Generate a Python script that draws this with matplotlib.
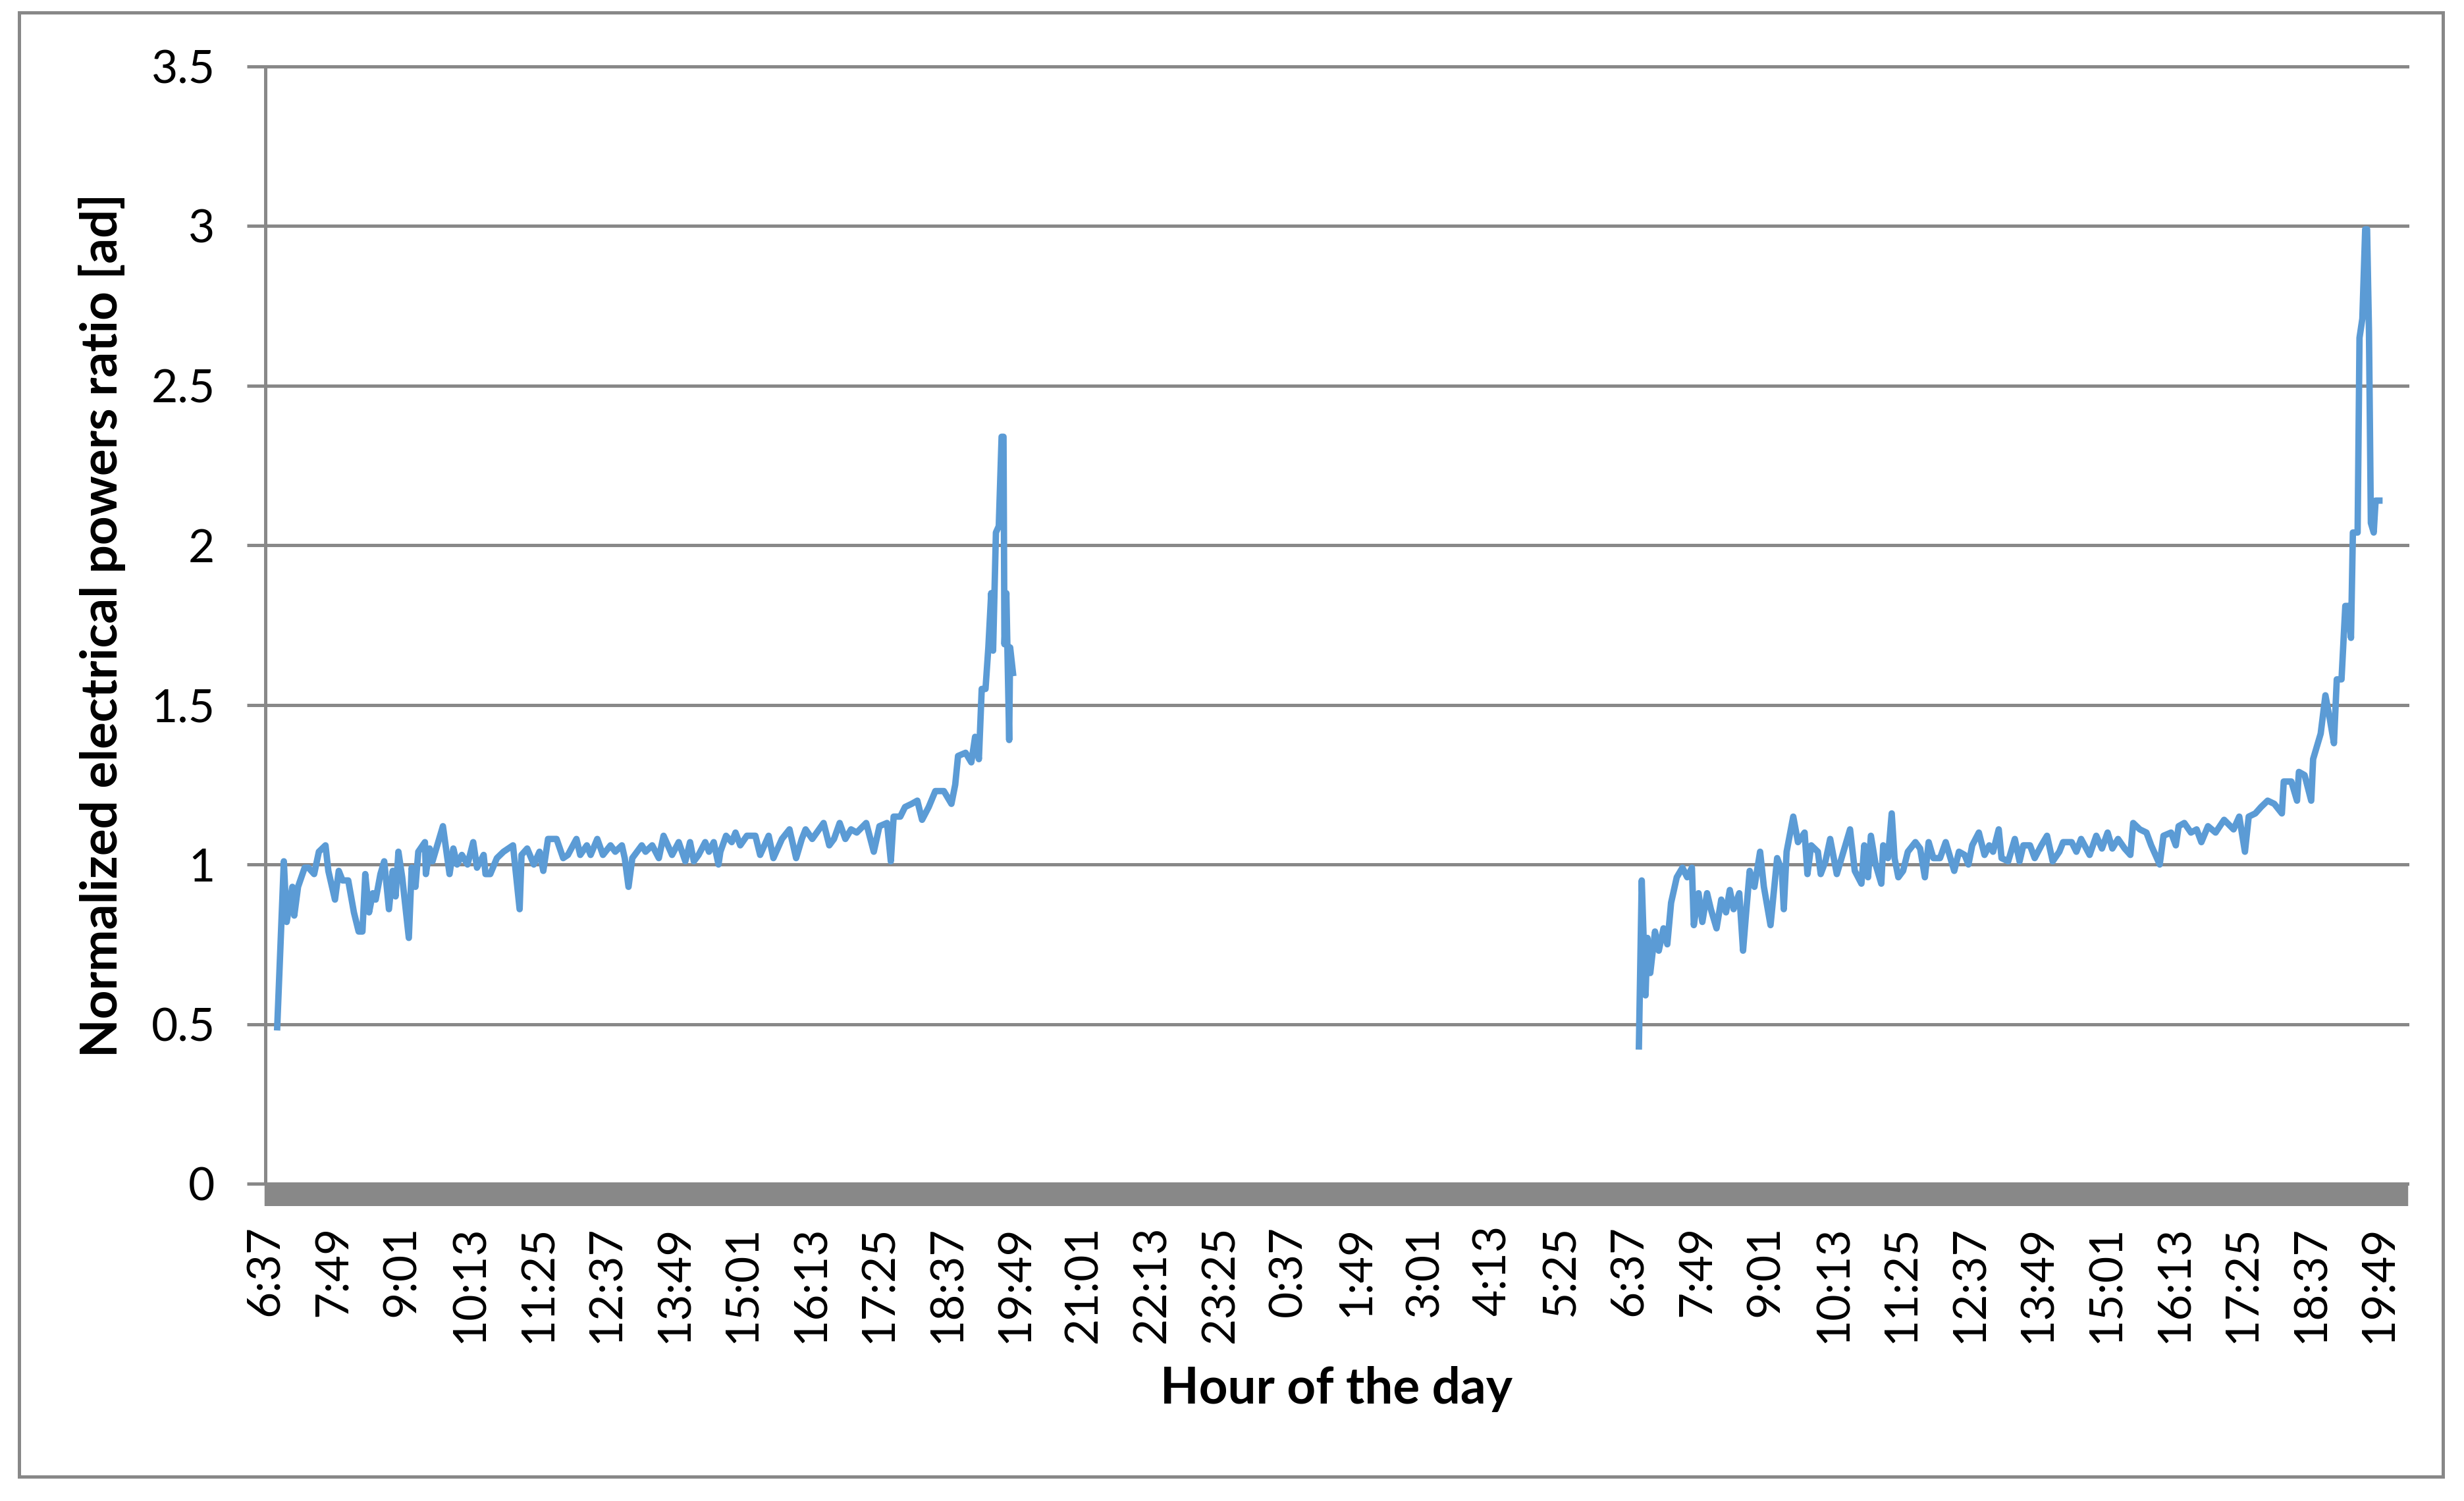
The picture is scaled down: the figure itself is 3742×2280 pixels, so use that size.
import matplotlib
matplotlib.use("Agg")
import matplotlib.pyplot as plt
from matplotlib.patches import Rectangle

# minutes counted from 6:37 of the first day, one category per minute
day1_min = [12, 19, 22, 28, 30, 34, 41, 45, 51, 56, 63, 66, 73, 77, 81, 87, 93, 98, 102, 105,
            109, 113, 116, 121, 125, 130, 134, 137, 140, 144, 151, 154, 158, 161, 168, 169, 173, 176, 181, 187,
            194, 198, 202, 207, 213, 219, 223, 230, 232, 237, 244, 251, 261, 268, 270, 276, 283, 289,
            293, 298, 307, 314, 319, 328, 332, 339, 343, 350, 356, 364, 369, 376, 379, 383, 387, 397, 401, 408,
            415, 420, 429, 436, 443, 448, 452, 457, 464, 468, 473, 478, 480, 486, 492, 496, 501, 508, 517, 522,
            531, 536, 545, 553, 560, 566, 570, 577,
            589, 595, 600, 606, 612, 618, 624, 634, 642, 648, 656, 660, 663, 670, 675, 682, 688, 693, 700, 707,
            716, 724, 728, 731, 739, 745, 749, 753, 756, 760, 763, 766, 768, 771, 774, 777, 779, 780, 782, 785,
            786, 789]
day1_val = [0.49, 1.01, 0.82, 0.93, 0.84, 0.93, 0.99, 0.99, 0.97, 1.04, 1.06, 0.98, 0.89, 0.98, 0.95, 0.95, 0.85, 0.79, 0.79, 0.97,
            0.85, 0.91, 0.89, 0.97, 1.01, 0.86, 0.98, 0.90, 1.04, 0.96, 0.77, 0.99, 0.93, 1.04, 1.07, 0.97, 1.05, 1.01, 1.06, 1.12,
            0.97, 1.05, 1.00, 1.03, 1.00, 1.07, 0.99, 1.03, 0.97, 0.97, 1.02, 1.04, 1.06, 0.86, 1.03, 1.05, 1.00, 1.04,
            0.98, 1.08, 1.08, 1.02, 1.03, 1.08, 1.03, 1.06, 1.03, 1.08, 1.03, 1.06, 1.04, 1.06, 1.02, 0.93, 1.02, 1.06, 1.04, 1.06,
            1.02, 1.09, 1.03, 1.07, 1.01, 1.07, 1.01, 1.03, 1.07, 1.04, 1.07, 1.00, 1.04, 1.09, 1.07, 1.10, 1.06, 1.09, 1.09, 1.03,
            1.09, 1.02, 1.08, 1.11, 1.02, 1.08, 1.11, 1.08,
            1.13, 1.06, 1.08, 1.13, 1.08, 1.11, 1.10, 1.13, 1.04, 1.12, 1.13, 1.01, 1.15, 1.15, 1.18, 1.19, 1.20, 1.14, 1.18, 1.23,
            1.23, 1.19, 1.25, 1.34, 1.35, 1.32, 1.40, 1.33, 1.55, 1.55, 1.68, 1.85, 1.67, 2.04, 2.06, 2.34, 2.34, 1.69, 1.85, 1.39,
            1.68, 1.60]

day2_min = [1450, 1453, 1457, 1459, 1462, 1467, 1471, 1476, 1480, 1484, 1490, 1496, 1501, 1506, 1508, 1513, 1517, 1522, 1526, 1532,
            1537, 1542, 1546, 1550, 1556, 1560, 1563, 1567, 1572, 1578, 1582, 1589, 1596, 1601, 1603, 1606, 1613, 1618, 1625, 1628,
            1632, 1639, 1642, 1647, 1652, 1659, 1664, 1673, 1678, 1685, 1688, 1692, 1695, 1700, 1706, 1708, 1713, 1717, 1720, 1724,
            1729, 1734,
            1742, 1747, 1752, 1756, 1761, 1768, 1774, 1779, 1783, 1788, 1794, 1798, 1802, 1809, 1815, 1820, 1824, 1830, 1833, 1840,
            1847, 1852, 1856, 1863, 1868, 1875, 1881, 1887, 1894, 1898, 1907, 1912, 1917, 1926, 1933, 1939, 1945, 1950, 1956, 1963,
            1969, 1972, 1979, 1986, 1991, 2000, 2004, 2012, 2017, 2020, 2026,
            2033, 2039, 2044, 2051, 2059, 2068, 2078, 2084, 2090, 2094, 2101, 2107, 2114, 2121, 2129, 2131, 2139, 2145, 2147, 2153,
            2160, 2162, 2167, 2170, 2175, 2180, 2184, 2187, 2192, 2196, 2199, 2202, 2204, 2209, 2211, 2214, 2217, 2219, 2221, 2223,
            2226, 2228, 2232]
day2_val = [0.43, 0.95, 0.59, 0.77, 0.66, 0.79, 0.73, 0.80, 0.75, 0.88, 0.96, 0.99, 0.96, 0.99, 0.81, 0.91, 0.82, 0.91, 0.86, 0.80,
            0.89, 0.85, 0.92, 0.86, 0.91, 0.73, 0.84, 0.98, 0.93, 1.04, 0.93, 0.81, 1.02, 0.98, 0.86, 1.04, 1.15, 1.07, 1.10, 0.97,
            1.06, 1.04, 0.97, 1.01, 1.08, 0.97, 1.02, 1.11, 0.98, 0.94, 1.06, 0.96, 1.09, 1.00, 0.94, 1.06, 1.02, 1.16, 1.02, 0.96,
            0.98, 1.04,
            1.07, 1.05, 0.96, 1.07, 1.02, 1.02, 1.07, 1.02, 0.98, 1.04, 1.03, 1.00, 1.06, 1.10, 1.03, 1.06, 1.04, 1.11, 1.02, 1.01,
            1.08, 1.01, 1.06, 1.06, 1.02, 1.06, 1.09, 1.01, 1.04, 1.07, 1.07, 1.04, 1.08, 1.03, 1.09, 1.05, 1.10, 1.05, 1.08, 1.05,
            1.03, 1.13, 1.11, 1.10, 1.06, 1.00, 1.09, 1.10, 1.06, 1.12, 1.13,
            1.10, 1.11, 1.07, 1.12, 1.10, 1.14, 1.11, 1.15, 1.04, 1.15, 1.16, 1.18, 1.20, 1.19, 1.16, 1.26, 1.26, 1.20, 1.29, 1.28,
            1.20, 1.33, 1.38, 1.41, 1.53, 1.45, 1.38, 1.58, 1.58, 1.81, 1.81, 1.71, 2.04, 2.04, 2.65, 2.71, 2.99, 2.99, 2.67, 2.07,
            2.04, 2.14, 2.14]

hour_labels = ["6:37", "7:49", "9:01", "10:13", "11:25", "12:37", "13:49", "15:01", "16:13", "17:25",
               "18:37", "19:49", "21:01", "22:13", "23:25", "0:37", "1:49", "3:01", "4:13", "5:25",
               "6:37", "7:49", "9:01", "10:13", "11:25", "12:37", "13:49", "15:01", "16:13", "17:25",
               "18:37", "19:49"]
label_step = 72
n_minutes = 2262
y_ticks = [0, 0.5, 1, 1.5, 2, 2.5, 3, 3.5]
y_tick_labels = ["0", "0.5", "1", "1.5", "2", "2.5", "3", "3.5"]

grey = "#888888"
blue = "#5b9bd5"

plt.rcParams["font.family"] = ["Lato", "DejaVu Sans"]

fig = plt.figure(figsize=(37.42, 22.8), dpi=100)
ax = fig.add_axes([0.1077, 0.2114, 0.8693, 0.7443])

ax.plot(day1_min, day1_val, color=blue, lw=7, solid_joinstyle="round", zorder=3)
ax.plot(day2_min, day2_val, color=blue, lw=7, solid_joinstyle="round", zorder=3)

ax.set_xlim(-0.5, n_minutes - 0.5)
ax.set_ylim(0, 3.5)
ax.set_yticks(y_ticks)
ax.set_yticklabels(y_tick_labels)
ax.set_xticks([i * label_step for i in range(len(hour_labels))])
ax.set_xticklabels(hour_labels, rotation=90)
ax.set_xticks(range(n_minutes), minor=True)

ax.yaxis.grid(True, color=grey, lw=3.6)
ax.set_axisbelow(True)
for gl in ax.get_ygridlines():
    gl.set_clip_on(False)

ax.spines["top"].set_visible(False)
ax.spines["right"].set_visible(False)
ax.spines["left"].set_color(grey)
ax.spines["left"].set_linewidth(3.6)
ax.spines["bottom"].set_color(grey)
ax.spines["bottom"].set_linewidth(3.6)

ax.tick_params(axis="y", length=20, width=3.6, color=grey, pad=35, labelsize=50)
ax.tick_params(axis="x", which="both", length=24.5, width=3.2, color=grey, pad=21, labelsize=50)

fig.text(0.0414, 0.5836, "Normalized electrical powers ratio [ad]", rotation=90,
         ha="center", va="center", fontsize=55, fontweight="bold")
fig.text(0.5423, 0.0746, "Hour of the day", ha="center", va="center",
         fontsize=55, fontweight="bold")

# outer chart border
fig.patches.append(Rectangle((0.0077, 0.0162), 0.9837, 0.9755, transform=fig.transFigure,
                             fill=False, edgecolor=grey, lw=3.6))

fig.savefig("out.png", dpi=100)
